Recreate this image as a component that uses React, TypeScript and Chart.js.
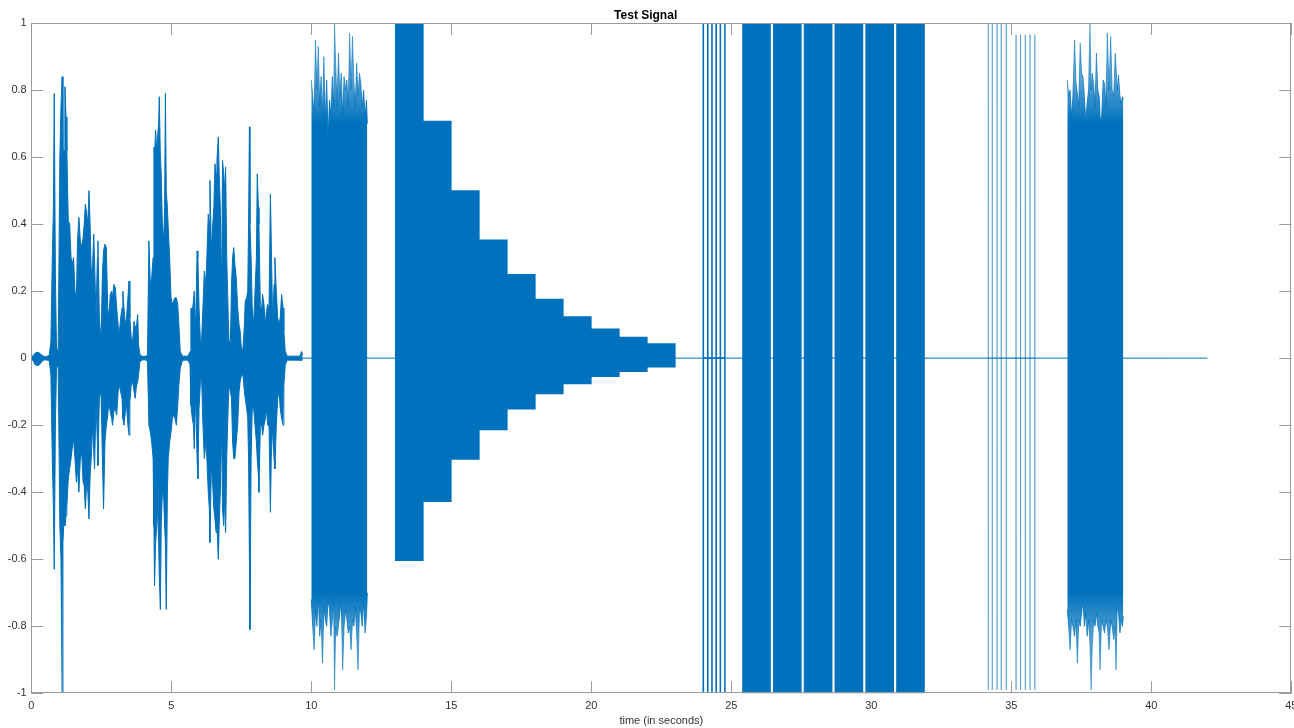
import React, { useEffect, useRef } from 'react';
import { Chart, registerables } from 'chart.js';

Chart.register(...registerables);

const BLUE = '#0072BD';
const LIGHT_BLUE = 'rgba(0,114,189,0.45)';
const AXIS = '#9a9a9a';
const TEXT = '#333333';
const FONT = 'Liberation Sans, Arial, Helvetica, sans-serif';

// ---- speech segment (upper / lower envelope, seconds) ----
const speechTime = [
  0.0, 0.07, 0.14, 0.21, 0.29, 0.36, 0.43, 0.5, 0.57, 0.64, 0.7, 0.75, 0.79, 0.82, 0.86, 0.9, 0.96,
  1.02, 1.06, 1.1, 1.13, 1.17, 1.2, 1.24, 1.27, 1.32, 1.37, 1.42, 1.46, 1.51, 1.56, 1.61, 1.65, 1.7,
  1.75, 1.8, 1.85, 1.89, 1.93, 1.98, 2.02, 2.06, 2.1, 2.14, 2.19, 2.23, 2.26, 2.31, 2.36, 2.38, 2.43,
  2.49, 2.54, 2.58, 2.63, 2.68, 2.73, 2.77, 2.82, 2.87, 2.9, 2.95, 3.0, 3.05, 3.1, 3.14, 3.19, 3.24,
  3.27, 3.31, 3.36, 3.4, 3.45, 3.49, 3.52, 3.57, 3.62, 3.67, 3.71, 3.76, 3.8, 3.83, 3.88, 3.98, 4.07,
  4.15, 4.2, 4.25, 4.3, 4.35, 4.38, 4.4, 4.44, 4.48, 4.51, 4.55, 4.57, 4.61, 4.64, 4.68, 4.73, 4.76,
  4.79, 4.82, 4.86, 4.89, 4.94, 4.99, 5.04, 5.08, 5.13, 5.18, 5.23, 5.27, 5.32, 5.4, 5.5, 5.6, 5.67,
  5.7, 5.75, 5.79, 5.82, 5.87, 5.92, 5.95, 5.99, 6.04, 6.08, 6.13, 6.18, 6.23, 6.27, 6.32, 6.36, 6.38,
  6.43, 6.48, 6.52, 6.56, 6.6, 6.63, 6.68, 6.71, 6.75, 6.8, 6.83, 6.87, 6.9, 6.94, 6.98, 7.01, 7.06,
  7.11, 7.15, 7.19, 7.23, 7.27, 7.32, 7.37, 7.42, 7.46, 7.51, 7.56, 7.61, 7.64, 7.69, 7.73, 7.76, 7.79,
  7.81, 7.85, 7.89, 7.94, 7.99, 8.04, 8.07, 8.11, 8.13, 8.18, 8.23, 8.26, 8.31, 8.36, 8.4, 8.44, 8.49,
  8.54, 8.57, 8.62, 8.67, 8.7, 8.75, 8.8, 8.85, 8.89, 8.94, 8.99, 9.02, 9.07, 9.14, 9.26, 9.38, 9.5,
  9.6, 9.65, 9.69,
];
const speechHigh = [
  0.003, 0.008, 0.015, 0.018, 0.015, 0.01, 0.006, 0.005, 0.006, 0.008, 0.05, 0.3, 0.45, 0.79, 0.25, 0.03, 0.02,
  0.6, 0.75, 0.84, 0.6, 0.62, 0.81, 0.72, 0.62, 0.41, 0.4, 0.3, 0.28, 0.3, 0.2, 0.18, 0.35, 0.42,
  0.35, 0.33, 0.36, 0.4, 0.46, 0.43, 0.4, 0.5, 0.4, 0.25, 0.28, 0.37, 0.29, 0.12, 0.3, 0.35, 0.12,
  0.05, 0.25, 0.32, 0.34, 0.33, 0.15, 0.12, 0.19, 0.2, 0.18, 0.22, 0.21, 0.15, 0.1, 0.07, 0.12, 0.15,
  0.2, 0.15, 0.1, 0.12, 0.18, 0.23, 0.12, 0.06, 0.05, 0.11, 0.09, 0.1, 0.13, 0.04, 0.01, 0.005, 0.005,
  0.01, 0.35, 0.22, 0.24, 0.3, 0.63, 0.6, 0.68, 0.62, 0.66, 0.7, 0.78, 0.6, 0.55, 0.4, 0.35, 0.45,
  0.79, 0.5, 0.45, 0.39, 0.3, 0.18, 0.16, 0.17, 0.18, 0.18, 0.16, 0.1, 0.02, 0.006, 0.006, 0.006, 0.02,
  0.15, 0.14, 0.17, 0.2, 0.08, 0.32, 0.3, 0.15, 0.05, 0.05, 0.15, 0.26, 0.22, 0.3, 0.43, 0.4, 0.53,
  0.32, 0.4, 0.45, 0.58, 0.55, 0.59, 0.66, 0.55, 0.45, 0.2, 0.59, 0.55, 0.5, 0.57, 0.3, 0.2, 0.05,
  0.05, 0.22, 0.3, 0.33, 0.28, 0.24, 0.15, 0.1, 0.08, 0.02, 0.03, 0.1, 0.17, 0.18, 0.2, 0.4, 0.69,
  0.4, 0.3, 0.15, 0.1, 0.2, 0.3, 0.55, 0.45, 0.4, 0.15, 0.15, 0.19, 0.16, 0.1, 0.14, 0.16, 0.15,
  0.49, 0.35, 0.1, 0.22, 0.3, 0.2, 0.12, 0.1, 0.12, 0.19, 0.15, 0.08, 0.02, 0.006, 0.006, 0.006, 0.006,
  0.006, 0.02, 0.01,
];
const speechLow = [
  -0.003, -0.008, -0.02, -0.022, -0.02, -0.012, -0.006, -0.005, -0.006, -0.008, -0.05, -0.3, -0.45, -0.63, -0.2, -0.03, -0.02,
  -0.5, -0.6, -1.0, -0.55, -0.48, -0.5, -0.47, -0.44, -0.36, -0.33, -0.3, -0.27, -0.24, -0.3, -0.37, -0.33, -0.4,
  -0.3, -0.28, -0.37, -0.38, -0.45, -0.37, -0.4, -0.48, -0.35, -0.3, -0.2, -0.28, -0.33, -0.13, -0.25, -0.32, -0.12,
  -0.1, -0.3, -0.45, -0.25, -0.2, -0.17, -0.13, -0.16, -0.18, -0.2, -0.16, -0.15, -0.17, -0.1, -0.08, -0.1, -0.12,
  -0.18, -0.2, -0.16, -0.14, -0.2, -0.23, -0.13, -0.08, -0.07, -0.1, -0.12, -0.08, -0.07, -0.05, -0.01, -0.005, -0.005,
  -0.01, -0.2, -0.22, -0.25, -0.3, -0.5, -0.68, -0.55, -0.5, -0.45, -0.55, -0.65, -0.75, -0.5, -0.4, -0.42, -0.5,
  -0.55, -0.75, -0.4, -0.3, -0.25, -0.22, -0.18, -0.17, -0.18, -0.2, -0.14, -0.08, -0.03, -0.006, -0.006, -0.006, -0.02,
  -0.14, -0.18, -0.2, -0.27, -0.1, -0.3, -0.36, -0.15, -0.07, -0.05, -0.2, -0.3, -0.25, -0.3, -0.4, -0.45, -0.55,
  -0.32, -0.38, -0.45, -0.48, -0.52, -0.5, -0.6, -0.5, -0.4, -0.2, -0.45, -0.5, -0.42, -0.52, -0.3, -0.2, -0.08,
  -0.1, -0.12, -0.25, -0.3, -0.3, -0.25, -0.2, -0.1, -0.07, -0.05, -0.05, -0.1, -0.12, -0.15, -0.18, -0.3, -0.6,
  -0.81, -0.3, -0.15, -0.15, -0.2, -0.25, -0.3, -0.35, -0.4, -0.2, -0.2, -0.23, -0.2, -0.18, -0.15, -0.2, -0.2,
  -0.46, -0.3, -0.2, -0.3, -0.33, -0.2, -0.12, -0.1, -0.15, -0.18, -0.2, -0.08, -0.02, -0.006, -0.006, -0.006, -0.006,
  -0.006, -0.008, -0.004,
];

// ---- noise bursts ----
const noiseATime = [
  10.0, 10.05, 10.1, 10.15, 10.2, 10.25, 10.3, 10.35, 10.4, 10.45, 10.5, 10.55, 10.6, 10.65, 10.7, 10.75,
  10.8, 10.83, 10.87, 10.92, 10.97, 11.02, 11.07, 11.12, 11.17, 11.22, 11.27, 11.32, 11.37, 11.42, 11.47,
  11.52, 11.57, 11.62, 11.67, 11.72, 11.77, 11.82, 11.87, 11.92, 11.97, 12.0,
];
const noiseAHigh = [
  0.83, 0.78, 0.72, 0.95, 0.8, 0.93, 0.75, 0.84, 0.72, 0.9, 0.7, 0.83, 0.65, 0.77, 0.72, 0.84,
  0.75, 1.0, 0.88, 0.75, 0.91, 0.78, 0.85, 0.72, 0.84, 0.8, 0.83, 0.75, 0.97, 0.8, 0.96,
  0.82, 0.75, 0.88, 0.78, 0.85, 0.82, 0.75, 0.8, 0.72, 0.77, 0.7,
];
const noiseALow = [
  -0.72, -0.8, -0.87, -0.75, -0.8, -0.7, -0.83, -0.78, -0.91, -0.74, -0.78, -0.8, -0.72, -0.75, -0.83, -0.78,
  -0.72, -0.99, -0.8, -0.83, -0.8, -0.76, -0.72, -0.93, -0.8, -0.75, -0.78, -0.82, -0.8, -0.87, -0.78,
  -0.8, -0.74, -0.82, -0.93, -0.74, -0.76, -0.8, -0.72, -0.82, -0.77, -0.7,
];
const noiseBTime = [
  37.0, 37.05, 37.1, 37.15, 37.2, 37.26, 37.31, 37.36, 37.41, 37.46, 37.51, 37.56, 37.61, 37.66, 37.71,
  37.76, 37.81, 37.85, 37.89, 37.94, 37.99, 38.04, 38.09, 38.14, 38.17, 38.22, 38.28, 38.33, 38.38, 38.43,
  38.49, 38.55, 38.6, 38.66, 38.71, 38.74, 38.78, 38.83, 38.88, 38.93, 38.97, 39.0,
];
const noiseBHigh = [
  0.83, 0.78, 0.8, 0.72, 0.78, 0.95, 0.82, 0.79, 0.75, 0.94, 0.85, 0.84, 0.78, 0.7, 0.76,
  0.8, 1.0, 0.8, 0.85, 0.82, 0.75, 0.91, 0.8, 0.78, 0.72, 0.7, 0.83, 0.82, 0.75, 0.97,
  0.8, 0.96, 0.8, 0.78, 0.91, 0.87, 0.8, 0.845, 0.78, 0.76, 0.78, 0.77,
];
const noiseBLow = [
  -0.75, -0.8, -0.87, -0.78, -0.8, -0.83, -0.78, -0.91, -0.78, -0.8, -0.76, -0.72, -0.8, -0.76, -0.83,
  -0.78, -0.85, -0.99, -0.86, -0.78, -0.8, -0.76, -0.8, -0.82, -0.93, -0.78, -0.8, -0.82, -0.78, -0.8,
  -0.87, -0.78, -0.8, -0.84, -0.8, -0.93, -0.74, -0.76, -0.82, -0.78, -0.8, -0.77,
];

// ---- decaying tone steps (1 s each) ----
const stepStart = [13, 14, 15, 16, 17, 18, 19, 20, 21, 22];
const stepHigh = [1.0, 0.707, 0.5, 0.353, 0.25, 0.176, 0.124, 0.0875, 0.0627, 0.0436];
const stepLow = [-0.604, -0.428, -0.302, -0.214, -0.152, -0.107, -0.077, -0.055, -0.04, -0.027];

// ---- full-scale tone blocks (1 s each) ----
const blockStart = [25.4, 26.5, 27.6, 28.7, 29.8, 30.9];
const blockHigh = [1, 1, 1, 1, 1, 1];
const blockLow = [-1, -1, -1, -1, -1, -1];
const toneDuration = 1;

// ---- short bursts and clicks ----
const burstTime = [24.0, 24.16, 24.31, 24.46, 24.61, 24.77];
const burstHigh = [1, 1, 1, 1, 1, 1];
const burstLow = [-1, -1, -1, -1, -1, -1];
const clickTime = [34.18, 34.32, 34.49, 34.64, 34.82, 35.17, 35.33, 35.5, 35.67, 35.84];
const clickHigh = [1, 1, 1, 1, 1, 0.965, 0.965, 0.965, 0.965, 0.965];
const clickLow = [-0.99, -0.99, -0.99, -0.99, -0.99, -0.99, -0.99, -0.99, -0.99, -0.99];

// ---- silence line ----
const baselineTime = [0, 42];
const baselineValue = [0, 0];

// ---- axes ----
const xTickValues = [0, 5, 10, 15, 20, 25, 30, 35, 40, 45];
const xTickLabels = ['0', '5', '10', '15', '20', '25', '30', '35', '40', '45'];
const yTickValues = [-1, -0.8, -0.6, -0.4, -0.2, 0, 0.2, 0.4, 0.6, 0.8, 1];
const yTickLabels = ['-1', '-0.8', '-0.6', '-0.4', '-0.2', '0', '0.2', '0.4', '0.6', '0.8', '1'];

const series = (t: number[], v: number[]) => t.map((x, i) => ({ x, y: v[i] }));
const spikes = (t: number[], hi: number[], lo: number[]) => {
  const pts: { x: number; y: number }[] = [];
  t.forEach((x, i) => {
    pts.push({ x, y: 0 }, { x, y: hi[i] }, { x, y: lo[i] }, { x, y: 0 });
  });
  return pts;
};
const tones = (start: number[], hi: number[], lo: number[]) =>
  start.map((s, i) => ({ x: s + toneDuration / 2, y: [lo[i], hi[i]] }));

// lighter fringe toward the extremes of the noise bursts (MATLAB anti-aliased spikes)
const fringe = (c: any) => {
  const chart = c.chart;
  const area = chart.chartArea;
  if (!area) return BLUE;
  const g = chart.ctx.createLinearGradient(0, area.top, 0, area.bottom);
  g.addColorStop(0, 'rgba(0,114,189,0.45)');
  g.addColorStop(0.09, 'rgba(0,114,189,0.68)');
  g.addColorStop(0.15, BLUE);
  g.addColorStop(0.85, BLUE);
  g.addColorStop(0.91, 'rgba(0,114,189,0.68)');
  g.addColorStop(1, 'rgba(0,114,189,0.45)');
  return g;
};

const TICK = 12;
const axesBox = {
  id: 'axesBox',
  beforeDatasetsDraw(chart: any) {
    const { ctx, chartArea, scales } = chart;
    const { left, right, top, bottom } = chartArea;
    ctx.save();
    ctx.strokeStyle = AXIS;
    ctx.lineWidth = 1;
    ctx.beginPath();
    scales.x.ticks.forEach((t: any) => {
      const px = Math.round(scales.x.getPixelForValue(t.value)) + 0.5;
      ctx.moveTo(px, bottom);
      ctx.lineTo(px, bottom - TICK);
      ctx.moveTo(px, top);
      ctx.lineTo(px, top + TICK);
    });
    scales.y.ticks.forEach((t: any) => {
      const py = Math.round(scales.y.getPixelForValue(t.value)) + 0.5;
      ctx.moveTo(left, py);
      ctx.lineTo(left + TICK, py);
      ctx.moveTo(right, py);
      ctx.lineTo(right - TICK, py);
    });
    ctx.stroke();
    ctx.restore();
  },
  afterDatasetsDraw(chart: any) {
    const { ctx, chartArea } = chart;
    const { left, right, top, bottom } = chartArea;
    ctx.save();
    ctx.strokeStyle = AXIS;
    ctx.lineWidth = 1;
    const l = Math.round(left) + 0.5;
    const r = Math.round(right) - 0.5;
    const t = Math.round(top) + 0.5;
    const b = Math.round(bottom) - 0.5;
    ctx.strokeRect(l, t, r - l, b - t);
    ctx.restore();
  },
};

export default function App() {
  const ref = useRef<HTMLCanvasElement>(null);

  useEffect(() => {
    if (!ref.current) return;
    const lineCommon = {
      type: 'line' as const,
      pointRadius: 0,
      tension: 0,
      fill: false,
      borderJoinStyle: 'bevel' as const,
      borderColor: BLUE,
      borderWidth: 1,
    };
    const upper = { ...lineCommon, fill: '+1', backgroundColor: BLUE };
    const noiseUpper = { ...lineCommon, fill: '+1', backgroundColor: fringe, borderColor: fringe };
    const noiseLower = { ...lineCommon, borderColor: fringe };
    const barCommon = {
      type: 'bar' as const,
      backgroundColor: BLUE,
      borderWidth: 0,
      grouped: false,
      barPercentage: 1,
      categoryPercentage: 1,
    };
    const chart = new Chart(ref.current, {
      type: 'line',
      data: {
        datasets: [
          { ...lineCommon, label: 'silence', data: series(baselineTime, baselineValue) },
          { ...upper, label: 'speech max', data: series(speechTime, speechHigh) },
          { ...lineCommon, label: 'speech min', data: series(speechTime, speechLow) },
          { ...noiseUpper, label: 'noise A max', data: series(noiseATime, noiseAHigh) },
          { ...noiseLower, label: 'noise A min', data: series(noiseATime, noiseALow) },
          { ...noiseUpper, label: 'noise B max', data: series(noiseBTime, noiseBHigh) },
          { ...noiseLower, label: 'noise B min', data: series(noiseBTime, noiseBLow) },
          { ...lineCommon, label: 'bursts', data: spikes(burstTime, burstHigh, burstLow), borderWidth: 1.6 },
          {
            ...lineCommon,
            label: 'clicks',
            data: spikes(clickTime, clickHigh, clickLow),
            borderColor: LIGHT_BLUE,
          },
          { ...barCommon, label: 'steps', data: tones(stepStart, stepHigh, stepLow) },
          { ...barCommon, label: 'blocks', data: tones(blockStart, blockHigh, blockLow) },
        ] as any,
      },
      options: {
        animation: false,
        responsive: false,
        devicePixelRatio: 1,
        events: [],
        layout: { padding: { left: 0, right: 32.7, top: 0, bottom: 0 } },
        plugins: {
          legend: { display: false },
          tooltip: { enabled: false },
          title: {
            display: true,
            text: 'Test Signal',
            color: '#000000',
            font: { family: FONT, size: 12, weight: 'bold' },
            padding: { top: 8, bottom: 0.6 },
          },
        },
        scales: {
          x: {
            type: 'linear',
            min: 0,
            max: 45,
            offset: false,
            grid: { display: false, drawTicks: false },
            border: { display: false },
            ticks: {
              color: TEXT,
              font: { family: FONT, size: 11 },
              padding: 6,
              maxRotation: 0,
              autoSkip: false,
              callback: (_v: any, i: number) => xTickLabels[i],
            },
            afterBuildTicks: (s: any) => {
              s.ticks = xTickValues.map((value) => ({ value }));
            },
            afterFit: (s: any) => {
              s.height = 34.7;
            },
            title: {
              display: true,
              text: 'time (in seconds)',
              color: TEXT,
              font: { family: FONT, size: 11 },
              padding: { top: 0, bottom: 0 },
            },
          },
          y: {
            type: 'linear',
            min: -1,
            max: 1,
            grid: { display: false, drawTicks: false },
            border: { display: false },
            ticks: {
              color: TEXT,
              font: { family: FONT, size: 11 },
              padding: 4.6,
              autoSkip: false,
              callback: (_v: any, i: number) => yTickLabels[i],
            },
            afterBuildTicks: (s: any) => {
              s.ticks = yTickValues.map((value) => ({ value }));
            },
            afterFit: (s: any) => {
              s.width = 31.3;
            },
          },
        },
      } as any,
      plugins: [axesBox],
    });
    return () => chart.destroy();
  }, []);

  return (
    <div
      style={{
        position: 'absolute',
        left: 0,
        top: 0,
        width: 1294,
        height: 728,
        overflow: 'hidden',
        background: '#ffffff',
      }}
    >
      <canvas ref={ref} width={1324} height={728} style={{ display: 'block', width: 1324, height: 728 }} />
    </div>
  );
}
